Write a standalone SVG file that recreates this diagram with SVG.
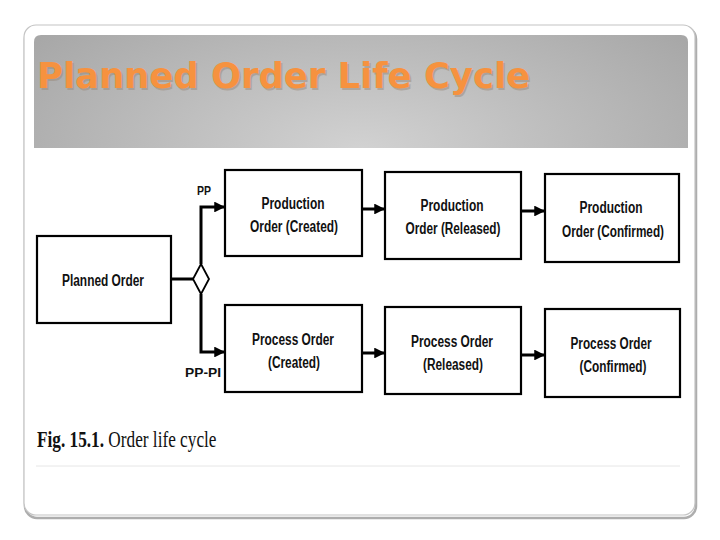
<svg xmlns="http://www.w3.org/2000/svg" width="720" height="540" viewBox="0 0 720 540">
<defs>
<radialGradient id="band" gradientUnits="userSpaceOnUse" cx="361" cy="150" r="420" fx="361" fy="150" gradientTransform="translate(361 150) scale(1 0.45) translate(-361 -150)">
<stop offset="0" stop-color="#d2d2d2"/>
<stop offset="1" stop-color="#a6a6a6"/>
</radialGradient>
<marker id="ah" viewBox="0 0 10 10" refX="9" refY="5" markerWidth="3.6" markerHeight="3.6" orient="auto" markerUnits="strokeWidth">
<path d="M0,0 L10,5 L0,10 Z" fill="#000"/>
</marker>
<style>
.box{fill:#fff;stroke:#000;stroke-width:2.2}
.t{font-family:"Liberation Sans",Arial,sans-serif;font-weight:bold;font-size:16px;fill:#111;text-anchor:middle}
.lbl{font-family:"Liberation Sans",Arial,sans-serif;font-weight:bold;font-size:12px;fill:#111}
.c{fill:none;stroke:#000;stroke-width:3}
.cap{font-family:"Liberation Serif","Times New Roman",serif;font-size:23px;fill:#111}
</style>
</defs>
<rect x="0" y="0" width="720" height="540" fill="#fff"/>
<rect x="25" y="27" width="671" height="491" rx="12" fill="none" stroke="#8a8a8a" stroke-width="2.5" opacity="0.7"/>
<rect x="24" y="25" width="671" height="490" rx="12" fill="#fff" stroke="#c4c4c4" stroke-width="1.2"/>
<path d="M41,35 H681 Q688,35 688,42 V148 H34 V42 Q34,35 41,35 Z" fill="url(#band)"/>
<g id="title">
<text x="38.5" y="89.5" font-family="'DejaVu Sans',Verdana,sans-serif" font-weight="bold" font-size="35" fill="#9a8a7a" opacity="0.5" textLength="493" lengthAdjust="spacingAndGlyphs">Planned Order Life Cycle</text>
<text x="37" y="88" font-family="'DejaVu Sans',Verdana,sans-serif" font-weight="bold" font-size="35" fill="#f6923f" textLength="493" lengthAdjust="spacingAndGlyphs">Planned Order Life Cycle</text>
</g>
<line x1="36" y1="466" x2="680" y2="466" stroke="#e6e6e6" stroke-width="1"/>
<g id="connectors">
<line class="c" x1="171" y1="279" x2="193" y2="279"/>
<polyline class="c" points="201,264 201,207 224,207" marker-end="url(#ah)"/>
<polyline class="c" points="201,294 201,352 224,352" marker-end="url(#ah)"/>
<line class="c" x1="363" y1="209" x2="384" y2="209" marker-end="url(#ah)"/>
<line class="c" x1="522" y1="211" x2="544" y2="211" marker-end="url(#ah)"/>
<line class="c" x1="363" y1="353" x2="384" y2="353" marker-end="url(#ah)"/>
<line class="c" x1="522" y1="355" x2="544" y2="355" marker-end="url(#ah)"/>
<text class="lbl" x="197" y="195" textLength="14" lengthAdjust="spacingAndGlyphs">PP</text>
<text class="lbl" x="185" y="377" textLength="36" lengthAdjust="spacingAndGlyphs">PP-PI</text>
</g>
<g id="planned-order">
<rect class="box" x="37" y="236" width="134" height="87"/>
<text class="t" x="103" y="286" textLength="82" lengthAdjust="spacingAndGlyphs">Planned Order</text>
</g>
<g id="decision">
<polygon points="201,264 209,279 201,294 193,279" fill="#fff" stroke="#000" stroke-width="1.8"/>
</g>
<g id="prod-created">
<rect class="box" x="225" y="170" width="137" height="86"/>
<text class="t" x="293" y="209" textLength="63" lengthAdjust="spacingAndGlyphs">Production</text>
<text class="t" x="294" y="232" textLength="88" lengthAdjust="spacingAndGlyphs">Order (Created)</text>
</g>
<g id="prod-released">
<rect class="box" x="385" y="172" width="136" height="87"/>
<text class="t" x="452" y="211" textLength="63" lengthAdjust="spacingAndGlyphs">Production</text>
<text class="t" x="453" y="234" textLength="95" lengthAdjust="spacingAndGlyphs">Order (Released)</text>
</g>
<g id="prod-confirmed">
<rect class="box" x="545" y="174" width="134" height="88"/>
<text class="t" x="611" y="213" textLength="63" lengthAdjust="spacingAndGlyphs">Production</text>
<text class="t" x="613" y="237" textLength="102" lengthAdjust="spacingAndGlyphs">Order (Confirmed)</text>
</g>
<g id="proc-created">
<rect class="box" x="225" y="305" width="137" height="87"/>
<text class="t" x="293" y="345" textLength="82" lengthAdjust="spacingAndGlyphs">Process Order</text>
<text class="t" x="294" y="368" textLength="52" lengthAdjust="spacingAndGlyphs">(Created)</text>
</g>
<g id="proc-released">
<rect class="box" x="385" y="307" width="136" height="87"/>
<text class="t" x="452" y="347" textLength="82" lengthAdjust="spacingAndGlyphs">Process Order</text>
<text class="t" x="453" y="370" textLength="60" lengthAdjust="spacingAndGlyphs">(Released)</text>
</g>
<g id="proc-confirmed">
<rect class="box" x="545" y="309" width="135" height="88"/>
<text class="t" x="611" y="349" textLength="81" lengthAdjust="spacingAndGlyphs">Process Order</text>
<text class="t" x="613" y="372" textLength="67" lengthAdjust="spacingAndGlyphs">(Confirmed)</text>
</g>
<g id="caption">
<text class="cap" transform="translate(37 447) scale(0.75 1)" x="0" y="0"><tspan font-weight="bold">Fig. 15.1.</tspan> Order life cycle</text>
</g>
</svg>
